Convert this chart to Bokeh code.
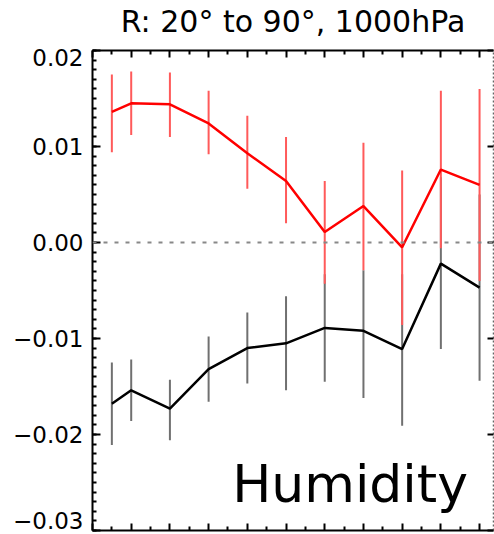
from bokeh.plotting import figure
from bokeh.models import (Range1d, FixedTicker, LinearAxis, Span, Label,
                          CustomJSTickFormatter)
from bokeh.embed import file_html
from bokeh.resources import INLINE

# Bin positions along the x axis
x = [0.5, 1, 2, 3, 4, 5, 6, 7, 8, 9, 10]

# Red series: mean and error-bar limits
red = [0.0136, 0.0145, 0.0144, 0.0124, 0.0093, 0.0064, 0.0011, 0.0038, -0.0005, 0.0076, 0.0060]
red_hi = [0.0175, 0.0178, 0.0177, 0.0158, 0.0132, 0.0110, 0.0064, 0.0104, 0.0075, 0.0158, 0.0160]
red_lo = [0.0094, 0.0112, 0.0110, 0.0092, 0.0056, 0.0020, -0.0043, -0.0029, -0.0086, -0.0006, -0.0040]

# Black series: mean and error-bar limits
black = [-0.0168, -0.0154, -0.0173, -0.0132, -0.0110, -0.0105, -0.0089, -0.0092, -0.0111, -0.0022, -0.0047]
black_hi = [-0.0125, -0.0122, -0.0143, -0.0098, -0.0073, -0.0056, -0.0033, -0.0029, -0.0033, 0.0068, 0.0050]
black_lo = [-0.0211, -0.0186, -0.0206, -0.0166, -0.0147, -0.0154, -0.0145, -0.0162, -0.0191, -0.0111, -0.0144]

y_ticks = [-0.03, -0.02, -0.01, 0.0, 0.01, 0.02]
x_ticks = [0, 1, 2, 3, 4, 5, 6, 7, 8, 9, 10]

TITLE = "R: 20\u00b0 to 90\u00b0, 1000hPa"
FONT = "DejaVu Sans"
Y_MIN, Y_MAX = -0.03, 0.02
FRAME_H = 480                      # plot-area height in px
PX = (Y_MAX - Y_MIN) / FRAME_H     # data units per pixel

p = figure(width=494, height=534, output_backend="svg", toolbar_location=None,
           x_range=Range1d(0, 10.36), y_range=Range1d(Y_MIN, Y_MAX),
           x_axis_location=None, y_axis_location=None,
           min_border_left=92, min_border_right=1, min_border_top=50, min_border_bottom=4)
p.outline_line_color = None
p.xgrid.visible = False
p.ygrid.visible = False
p.background_fill_color = "white"
p.border_fill_color = "white"

y_ticker = FixedTicker(ticks=y_ticks,
                       minor_ticks=[round(Y_MIN + 0.001 * i, 3) for i in range(51)])
x_ticker = FixedTicker(ticks=x_ticks, minor_ticks=[i + 0.5 for i in range(11)])

blank_fmt = CustomJSTickFormatter(code="return '';")

# left axis: line and inward ticks only
left = LinearAxis(ticker=y_ticker, formatter=blank_fmt,
                  axis_line_width=2, axis_line_color="black",
                  major_tick_in=8, major_tick_out=0, major_tick_line_width=2,
                  minor_tick_in=4, minor_tick_out=0, minor_tick_line_width=2,
                  major_label_text_font_size="1px", major_label_standoff=0)
p.add_layout(left, "left")

# left tick labels: the two end labels sit a few pixels inside the frame edges
label_pos = list(y_ticks)
label_pos[0] = Y_MIN + 10 * PX
label_pos[-1] = Y_MAX - 7 * PX
label_fmt = CustomJSTickFormatter(code="""
    const v = Math.round(tick * 100) / 100;
    return (v < -1e-9 ? "\\u2212" : "") + Math.abs(v).toFixed(2);
""")
labels_axis = LinearAxis(ticker=FixedTicker(ticks=label_pos, minor_ticks=[]),
                         formatter=label_fmt, axis_line_color=None,
                         major_tick_line_color=None, minor_tick_line_color=None,
                         major_tick_in=0, major_tick_out=0,
                         minor_tick_in=0, minor_tick_out=0,
                         major_label_text_font=FONT, major_label_text_font_size="23px",
                         major_label_text_color="black", major_label_standoff=9)
p.add_layout(labels_axis, "left")

# top and bottom axes: inward ticks, no labels; the top one carries the title
for side in ("above", "below"):
    ax = LinearAxis(ticker=x_ticker, formatter=blank_fmt,
                    axis_line_width=2, axis_line_color="black",
                    major_tick_in=7, major_tick_out=0, major_tick_line_width=2,
                    minor_tick_in=4, minor_tick_out=0, minor_tick_line_width=2,
                    major_label_text_font_size="1px", major_label_standoff=0)
    if side == "above":
        ax.axis_label = TITLE
        ax.axis_label_text_font = FONT
        ax.axis_label_text_font_size = "30px"
        ax.axis_label_text_font_style = "normal"
        ax.axis_label_text_color = "black"
        ax.axis_label_standoff = 12
    p.add_layout(ax, side)

right = LinearAxis(ticker=FixedTicker(ticks=y_ticks, minor_ticks=[]), formatter=blank_fmt,
                   axis_line_width=1.5, axis_line_color="#666666", axis_line_dash="2 2",
                   major_tick_in=6, major_tick_out=0, major_tick_line_width=2,
                   major_tick_line_color="black",
                   minor_tick_in=0, minor_tick_out=0,
                   major_label_text_font_size="1px", major_label_standoff=0)
p.add_layout(right, "right")

# zero reference line
p.add_layout(Span(location=0, dimension="width", line_color="#888888",
                  line_width=2, line_dash="4 7"))

# error bars
p.segment(x0=x, y0=black_lo, x1=x, y1=black_hi, line_color="#707070", line_width=2)
p.segment(x0=x, y0=red_lo, x1=x, y1=red_hi, line_color="#ff5a5a", line_width=2)

# series lines
p.line(x, black, line_color="black", line_width=2.5)
p.line(x, red, line_color="#ff0000", line_width=2.5)

p.add_layout(Label(x=9.7, y=-0.0252, text="Humidity", text_align="right",
                   text_baseline="alphabetic", text_font=FONT,
                   text_font_size="52px", text_color="black"))

open("out.html", "w").write(file_html(p, INLINE))
